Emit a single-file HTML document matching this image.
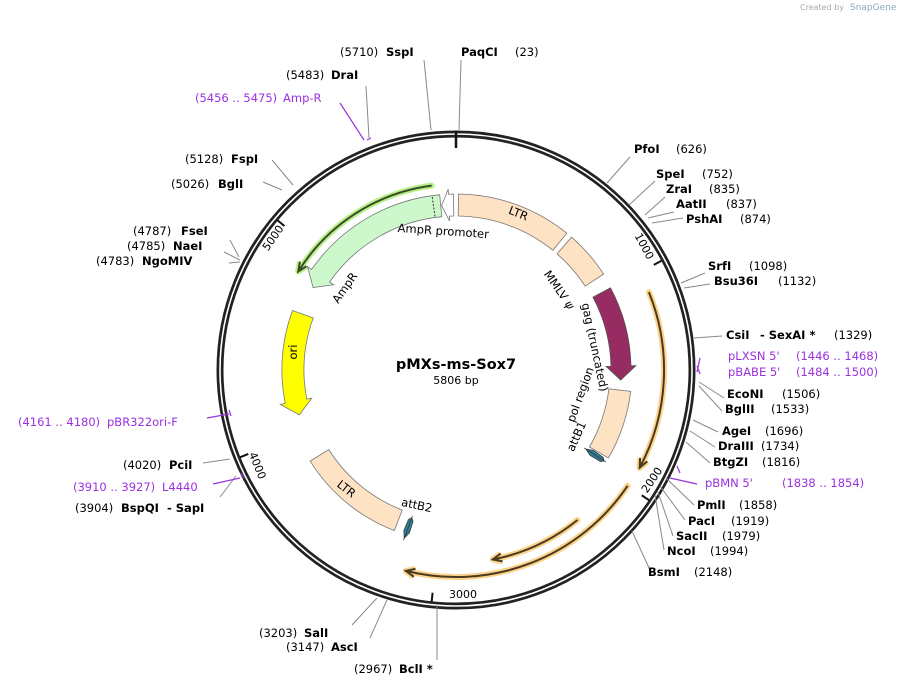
<!DOCTYPE html>
<html><head><meta charset="utf-8"><style>
html,body{margin:0;padding:0;background:#fff;}
svg{display:block;}
text{font-family:"DejaVu Sans","Liberation Sans",sans-serif;font-size:11.5px;fill:#000;}
.b{font-weight:bold;}
.p{fill:#9b30e0;}
.ln{stroke:#888;stroke-width:1;fill:none;}
.pl{stroke:#9b30e0;stroke-width:1.2;fill:none;}
</style></head><body>
<svg id="s" width="898" height="688" viewBox="0 0 898 688" xmlns="http://www.w3.org/2000/svg">
<g id="feat"></g>
<text x="800" y="10" style="font-size:8px;fill:#aaa">Created by</text><text x="850" y="10" style="font-size:9px;fill:#8ab">SnapGene</text>
<circle cx="456" cy="370" r="236" fill="none" stroke="#222" stroke-width="7"/>
<circle cx="456" cy="370" r="236" fill="none" stroke="#fff" stroke-width="1.6"/>
<line x1="456" y1="131" x2="456" y2="148" stroke="#111" stroke-width="2.5"/>
<g id="ticks"></g>
<text x="456" y="369" text-anchor="middle" class="b" style="font-size:14.5px">pMXs-ms-Sox7</text>
<text x="456" y="384" text-anchor="middle" style="font-size:11px">5806 bp</text>

<text transform="translate(443,235) rotate(4)" text-anchor="middle">AmpR promoter</text>
<text transform="translate(348,290) rotate(-55)" text-anchor="middle">AmpR</text>
<text transform="translate(517,217) rotate(22)" text-anchor="middle">LTR</text>
<text transform="translate(556,292) rotate(55)" text-anchor="middle">MMLV <tspan font-style="italic">ψ</tspan></text>
<text transform="translate(591,348) rotate(78)" text-anchor="middle">gag (truncated)</text>
<text transform="translate(584,396) rotate(-70)" text-anchor="middle">pol region</text>
<text transform="translate(580,438) rotate(-66)" text-anchor="middle">attB1</text>
<text transform="translate(297,352) rotate(-90)" text-anchor="middle">ori</text>
<text transform="translate(344,492) rotate(38)" text-anchor="middle">LTR</text>
<text transform="translate(416,509) rotate(12)" text-anchor="middle">attB2</text>

<path class="ln" d="M431,130 L424,60 M459,130 L461,60 M369,138 L366,86 M607,183 L630,157 M629,205 L655,181 M645,215 L665,197 M648,218 L674,212 M652,223 L683,218 M681,283 L705,273 M684,288 L710,284 M694,338 L722,336 M699,382 L724,398 M699,386 L722,411 M693,420 L718,432 M690,431 L715,447 M686,442 L710,463 M666,478 L694,505 M660,486 L685,520 M658,492 L673,536 M655,495 L664,550 M632,531 L650,570 M437,605 L437,660 M387,600 L370,638 M377,598 L352,625 M230,459 L203,463 M236,476 L220,497 M282,190 L263,182 M293,185 L272,160 M239,257 L230,240 M240,260 L224,252 M240,262 L229,263"/>
<path class="pl" d="M340,103 L364,140 M367,140 L371,138 M207,418 L229,414 M229,410 L231,416 M670,478 L697,484 M677,466 L680,473 M697,372 L700,358 M697,366 L700,374 M240,478 L213,484 M241,473 L244,478"/>

<text x="340" y="56">(5710)</text><text x="386" y="56" class="b">SspI</text>
<text x="461" y="56" class="b">PaqCI</text><text x="515" y="56">(23)</text>
<text x="286" y="79">(5483)</text><text x="331" y="79" class="b">DraI</text>
<text x="195" y="102" class="p">(5456 .. 5475)</text><text x="283" y="102" class="p">Amp-R</text>
<text x="185" y="163">(5128)</text><text x="231" y="163" class="b">FspI</text>
<text x="171" y="188">(5026)</text><text x="218" y="188" class="b">BglI</text>
<text x="133" y="235">(4787)</text><text x="181" y="235" class="b">FseI</text>
<text x="127" y="250">(4785)</text><text x="173" y="250" class="b">NaeI</text>
<text x="96" y="265">(4783)</text><text x="142" y="265" class="b">NgoMIV</text>
<text x="18" y="426" class="p">(4161 .. 4180)</text><text x="107" y="426" class="p">pBR322ori-F</text>
<text x="123" y="469">(4020)</text><text x="169" y="469" class="b">PciI</text>
<text x="73" y="491" class="p">(3910 .. 3927)</text><text x="162" y="491" class="p">L4440</text>
<text x="75" y="512">(3904)</text><text x="121" y="512" class="b">BspQI</text><text x="167" y="512" class="b">- SapI</text>
<text x="259" y="637">(3203)</text><text x="304" y="637" class="b">SalI</text>
<text x="286" y="651">(3147)</text><text x="331" y="651" class="b">AscI</text>
<text x="354" y="673">(2967)</text><text x="399" y="673" class="b">BclI *</text>

<text x="634" y="153" class="b">PfoI</text><text x="676" y="153">(626)</text>
<text x="656" y="178" class="b">SpeI</text><text x="702" y="178">(752)</text>
<text x="666" y="193" class="b">ZraI</text><text x="709" y="193">(835)</text>
<text x="676" y="208" class="b">AatII</text><text x="726" y="208">(837)</text>
<text x="686" y="223" class="b">PshAI</text><text x="740" y="223">(874)</text>
<text x="708" y="270" class="b">SrfI</text><text x="749" y="270">(1098)</text>
<text x="714" y="285" class="b">Bsu36I</text><text x="778" y="285">(1132)</text>
<text x="726" y="339" class="b">CsiI</text><text x="760" y="339" class="b">- SexAI *</text><text x="834" y="339">(1329)</text>
<text x="728" y="360" class="p">pLXSN 5'</text><text x="796" y="360" class="p">(1446 .. 1468)</text>
<text x="728" y="376" class="p">pBABE 5'</text><text x="796" y="376" class="p">(1484 .. 1500)</text>
<text x="727" y="398" class="b">EcoNI</text><text x="782" y="398">(1506)</text>
<text x="725" y="413" class="b">BglII</text><text x="771" y="413">(1533)</text>
<text x="722" y="435" class="b">AgeI</text><text x="765" y="435">(1696)</text>
<text x="718" y="450" class="b">DraIII</text><text x="761" y="450">(1734)</text>
<text x="713" y="466" class="b">BtgZI</text><text x="762" y="466">(1816)</text>
<text x="705" y="487" class="p">pBMN 5'</text><text x="782" y="487" class="p">(1838 .. 1854)</text>
<text x="697" y="509" class="b">PmlI</text><text x="739" y="509">(1858)</text>
<text x="688" y="525" class="b">PacI</text><text x="731" y="525">(1919)</text>
<text x="676" y="540" class="b">SacII</text><text x="722" y="540">(1979)</text>
<text x="667" y="555" class="b">NcoI</text><text x="710" y="555">(1994)</text>
<text x="648" y="576" class="b">BsmI</text><text x="694" y="576">(2148)</text>

<text transform="translate(641,248) rotate(62)" text-anchor="middle" style="font-size:11px">1000</text>
<text transform="translate(655,482) rotate(-56)" text-anchor="middle" style="font-size:11px">2000</text>
<text transform="translate(449,598)" style="font-size:11px">3000</text>
<text transform="translate(254,467) rotate(68)" text-anchor="middle" style="font-size:11px">4000</text>
<text transform="translate(276,240) rotate(-55)" text-anchor="middle" style="font-size:11px">5000</text>
</svg>
<script>
var cx=456,cy=370,NS="http://www.w3.org/2000/svg";
function P(r,a){a=a*Math.PI/180;return [cx+r*Math.sin(a),cy-r*Math.cos(a)];}
function f(p){return p[0].toFixed(1)+","+p[1].toFixed(1);}
function add(g,tag,at){var e=document.createElementNS(NS,tag);for(var k in at)e.setAttribute(k,at[k]);document.getElementById(g).appendChild(e);return e;}
function band(rm,w,a1,a2,fill,arrow,stroke){
  var r1=rm-w/2,r2=rm+w/2,h=arrow?Math.min(14*180/(Math.PI*rm),(a2-a1)*0.6):0,ex=5;
  var b1=a1,b2=a2; if(arrow==1)b2=a2-h; if(arrow==-1)b1=a1+h;
  var lg=(b2-b1)>180?1:0;
  var d="M"+f(P(r2,b1))+" A"+r2+","+r2+" 0 "+lg+" 1 "+f(P(r2,b2));
  if(arrow==1)d+=" L"+f(P(r2+ex,b2))+" L"+f(P(rm,a2))+" L"+f(P(r1-ex,b2));
  d+=" L"+f(P(r1,b2))+" A"+r1+","+r1+" 0 "+lg+" 0 "+f(P(r1,b1));
  if(arrow==-1)d+=" L"+f(P(r1-ex,b1))+" L"+f(P(rm,a1))+" L"+f(P(r2+ex,b1));
  d+="Z";
  add("feat","path",{d:d,fill:fill,stroke:stroke||"#777","stroke-width":0.8});
}
function line(r,a1,a2,dir,glow,col){
  var lg=(a2-a1)>180?1:0;
  var d="M"+f(P(r,a1))+" A"+r+","+r+" 0 "+lg+" 1 "+f(P(r,a2));
  var tip=dir==1?a2:a1,back=dir==1?-1:1,hh=9*180/(Math.PI*r)*back;
  var hd="M"+f(P(r+4,tip+hh))+" L"+f(P(r,tip))+" L"+f(P(r-4,tip+hh));
  add("feat","path",{d:d,stroke:glow,"stroke-width":6,fill:"none","stroke-linecap":"round"});
  add("feat","path",{d:hd,stroke:glow,"stroke-width":6,fill:"none","stroke-linejoin":"round"});
  add("feat","path",{d:d,stroke:col,"stroke-width":2,fill:"none"});
  add("feat","path",{d:hd,stroke:col,"stroke-width":2,fill:"none"});
}
function diamond(x,y,ang){
  add("feat","path",{d:"M-11,0 L-4,-3 L8,-2.5 L11,0 L8,2.5 L-4,3 Z",fill:"#2e7d96",stroke:"#333","stroke-width":0.7,transform:"translate("+x+","+y+") rotate("+ang+")"});
  add("feat","path",{d:"M-13,0 L13,0",stroke:"#333","stroke-width":0.7,transform:"translate("+x+","+y+") rotate("+ang+")"});
}
line(186,-58,-7.5,-1,"#b8f088","#3a4a2a");
line(208,68,118,1,"#fcd38a","#4a3a20");
line(207,124,194,1,"#fcd38a","#4a3a20");
line(193,141,169,1,"#fcd38a","#4a3a20");
band(165,22,-60,-5.3,"#ccf8cc",-1);
band(165,22,-5,-0.8,"#ffffff",-1);
add("feat","path",{d:"M"+f(P(155,-7.8))+" L"+f(P(175,-7.8)),stroke:"#333","stroke-width":1,"stroke-dasharray":"2,1.5",fill:"none"});
band(165,22,0.8,39,"#fde2c4",0);
band(165,22,41,57,"#fde2c4",0);
band(165,20,62,93.5,"#962c62",1,"#555");
band(165,22,97,120,"#fde2c4",0);
band(163,22,254,290,"#ffff00",-1);
band(161,22,201,238,"#fde2c4",0);
diamond(595,455,33);
diamond(408,528,-70);
[62,124,186,248,310].forEach(function(a){var p1=P(233,a),p2=P(224,a);add("ticks","line",{x1:p1[0],y1:p1[1],x2:p2[0],y2:p2[1],stroke:"#111","stroke-width":2});});
</script>
</body></html>
